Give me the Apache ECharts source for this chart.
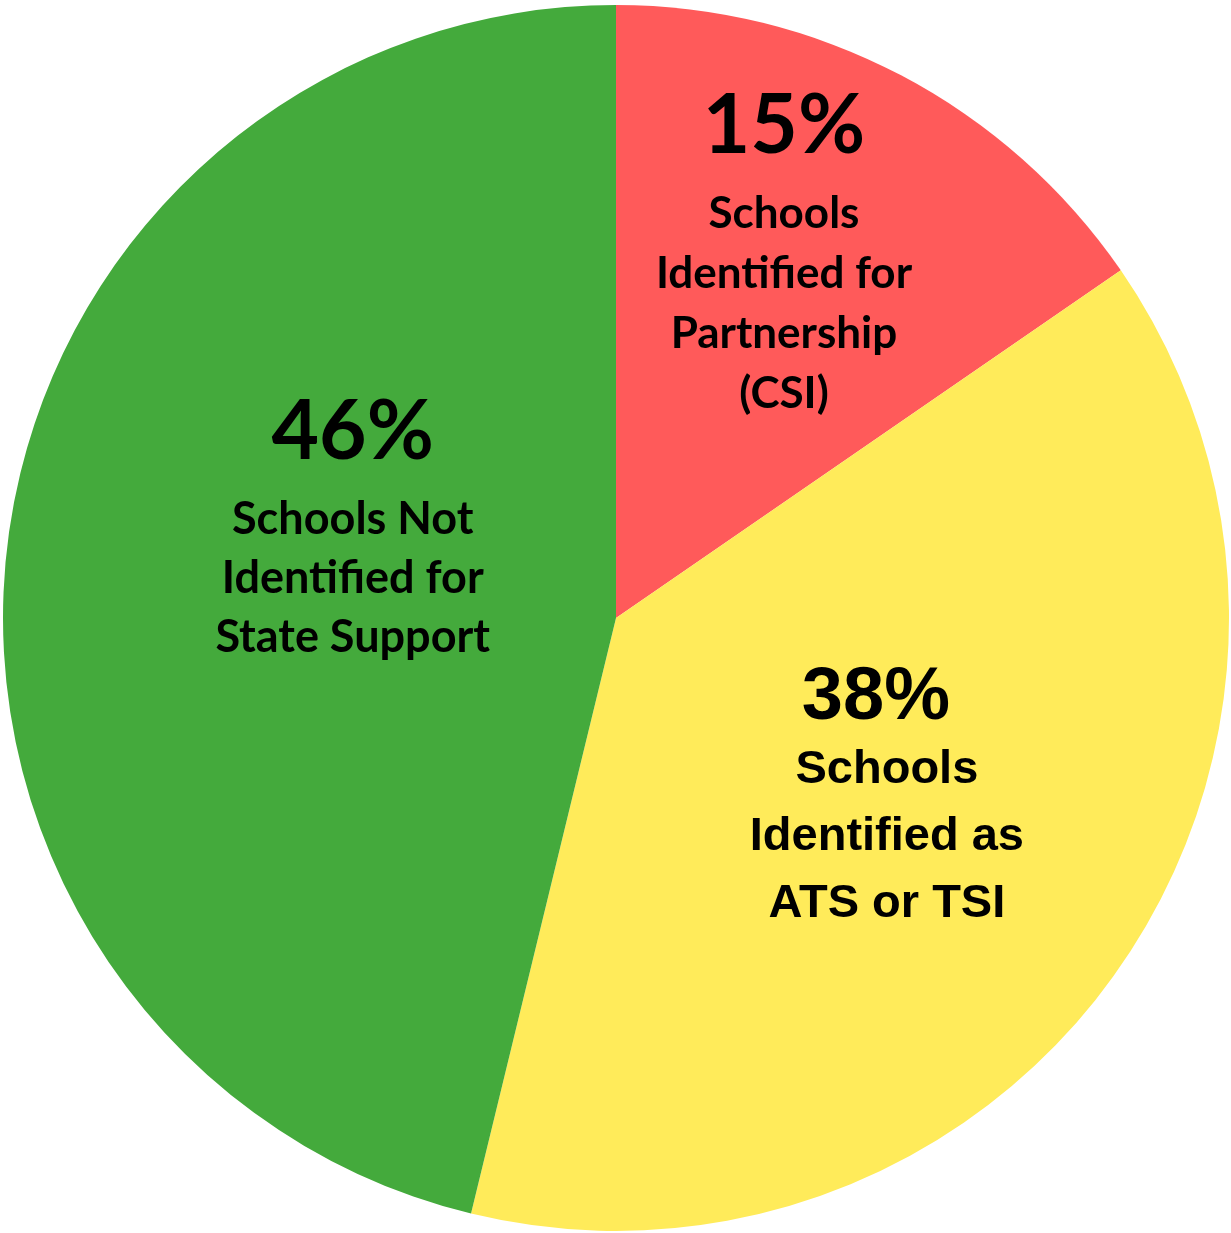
<!DOCTYPE html>
<html>
<head>
<meta charset="utf-8">
<script src="https://cdn.jsdelivr.net/npm/echarts@6/dist/echarts.min.js"></script>
<style>
  html, body { margin: 0; padding: 0; background: #fff; }
  #chart { width: 1231px; height: 1233px; }
</style>
</head>
<body>
<div id="chart"></div>
<script>
// slice data, clockwise from 12 o'clock
const names = [
  "Schools\nIdentified for\nPartnership\n(CSI)",
  "Schools\nIdentified as\nATS or TSI",
  "Schools Not\nIdentified for\nState Support"
];
const shares = [15.4, 38.4, 46.2];
const colors = ["#ff5a5a", "#ffeb5a", "#44aa3c"];

// label look per slice (red + green use a Calibri-like face, yellow Arial-like)
const labelFonts = [
  { family: "Lato", pct: 82, pctLH: 114, pctPad: 0, txt: 44, txtLH: 60 },
  { family: "Liberation Sans", pct: 74, pctLH: 75, pctPad: 22, txt: 47, txtLH: 67 },
  { family: "Lato", pct: 82, pctLH: 115, pctPad: 0, txt: 45, txtLH: 59 }
];
// nudge from the default inside position
const labelShift = [
  [24, -97],
  [16, 6],
  [44, -60]
];

const chart = echarts.init(document.getElementById("chart"));

const data = names.map((n, i) => ({
  name: n,
  value: shares[i],
  itemStyle: { color: colors[i] },
  label: {
    rich: {
      p: {
        fontFamily: labelFonts[i].family,
        fontSize: labelFonts[i].pct,
        fontWeight: "bold",
        lineHeight: labelFonts[i].pctLH,
        padding: [0, labelFonts[i].pctPad, 0, 0],
        color: "#000",
        align: "center"
      },
      t: {
        fontFamily: labelFonts[i].family,
        fontSize: labelFonts[i].txt,
        fontWeight: "bold",
        lineHeight: labelFonts[i].txtLH,
        color: "#000",
        align: "center"
      }
    }
  }
}));

chart.setOption({
  animation: false,
  series: [
    {
      type: "pie",
      center: [616, 618],
      radius: 613,
      startAngle: 90,
      clockwise: true,
      percentPrecision: 1,
      silent: true,
      itemStyle: { borderWidth: 0 },
      label: {
        show: true,
        position: "inside",
        formatter: (p) =>
          "{p|" + Math.round(p.percent) + "%}\n" +
          p.name.split("\n").map((l) => "{t|" + l + "}").join("\n")
      },
      labelLine: { show: false },
      labelLayout: (params) => ({
        dx: labelShift[params.dataIndex][0],
        dy: labelShift[params.dataIndex][1]
      }),
      emphasis: { scale: false },
      data: data
    }
  ]
});
</script>
</body>
</html>
